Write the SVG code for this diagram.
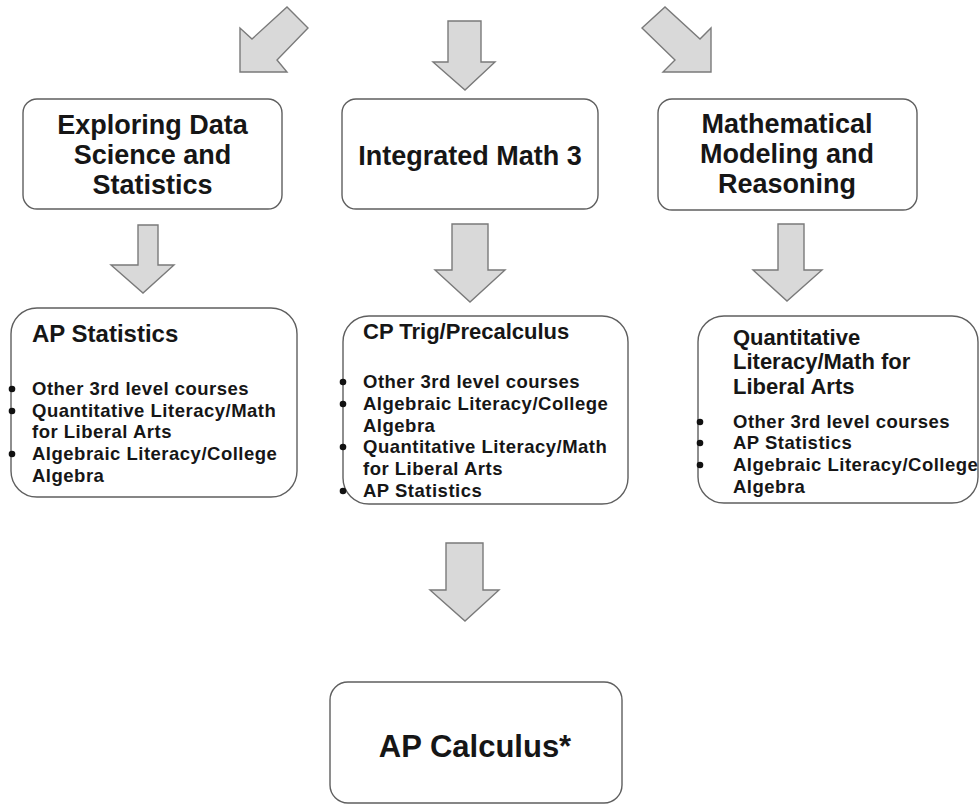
<svg xmlns="http://www.w3.org/2000/svg" width="979" height="804" viewBox="0 0 979 804">
<style>
.box{fill:#fff;stroke:#5f5f5f;stroke-width:1.4}
.arr{fill:#d9d9d9;stroke:#7a7a7a;stroke-width:1.4;stroke-linejoin:miter}
text{font-family:"Liberation Sans",Arial,sans-serif;font-weight:bold;fill:#161616}
.big{font-size:27px;text-anchor:middle}
.ttl{font-size:22px}
.sm{font-size:18.5px;letter-spacing:0.5px}
.dot{fill:#111}
</style>
<rect width="979" height="804" fill="#fff"/>
<g id="connectors">
<polygon class="arr" points="240,72 240,28 252,39 287,7 308,28 277,60 287,72"/>
<polygon class="arr" points="448,21 481,21 481,62 495,62 465,90 433,62 448,62"/>
<polygon class="arr" points="642,28 665,7 700,39 711,28 711,72 663,72 675,60"/>
<polygon class="arr" points="138,225 158,225 158,265 174,265 143,293 111,265 138,265"/>
<polygon class="arr" points="452,224 488,224 488,270 505,270 470,302 435,270 452,270"/>
<polygon class="arr" points="778,224 804,224 804,270 822,270 787,301 753,270 778,270"/>
<polygon class="arr" points="446,543 483,543 483,590 499,590 465,621 430,590 446,590"/>
</g>
<g id="eds">
<rect class="box" x="23" y="99" width="259" height="110" rx="14"/>
<text class="big" x="152.5" y="134">Exploring Data</text>
<text class="big" x="152.5" y="164">Science and</text>
<text class="big" x="152.5" y="194">Statistics</text>
</g>
<g id="im3">
<rect class="box" x="342" y="99" width="256" height="110" rx="14"/>
<text class="big" x="470" y="165">Integrated Math 3</text>
</g>
<g id="mmr">
<rect class="box" x="658" y="99" width="259" height="111" rx="14"/>
<text class="big" x="787" y="133">Mathematical</text>
<text class="big" x="787" y="163">Modeling and</text>
<text class="big" x="787" y="193">Reasoning</text>
</g>
<g id="apstat">
<rect class="box" x="11" y="308" width="286" height="189" rx="26"/>
<text x="32" y="342" style="font-size:24px">AP Statistics</text>
<circle class="dot" cx="12" cy="389" r="3.3"/>
<circle class="dot" cx="12" cy="411" r="3.3"/>
<circle class="dot" cx="12" cy="454" r="3.3"/>
<text class="sm" x="32" y="395">Other 3rd level courses</text>
<text class="sm" x="32" y="417">Quantitative Literacy/Math</text>
<text class="sm" x="32" y="438">for Liberal Arts</text>
<text class="sm" x="32" y="460">Algebraic Literacy/College</text>
<text class="sm" x="32" y="482">Algebra</text>
</g>
<g id="cptrig">
<rect class="box" x="343" y="316" width="285" height="188" rx="26"/>
<text class="ttl" x="363" y="339">CP Trig/Precalculus</text>
<circle class="dot" cx="343" cy="382" r="3.3"/>
<circle class="dot" cx="343" cy="404" r="3.3"/>
<circle class="dot" cx="343" cy="447" r="3.3"/>
<circle class="dot" cx="343" cy="491" r="3.3"/>
<text class="sm" x="363" y="388">Other 3rd level courses</text>
<text class="sm" x="363" y="410">Algebraic Literacy/College</text>
<text class="sm" x="363" y="432">Algebra</text>
<text class="sm" x="363" y="453">Quantitative Literacy/Math</text>
<text class="sm" x="363" y="475">for Liberal Arts</text>
<text class="sm" x="363" y="497">AP Statistics</text>
</g>
<g id="qlit">
<rect class="box" x="698" y="316" width="280" height="187" rx="26"/>
<text class="ttl" x="733" y="345">Quantitative</text>
<text class="ttl" x="733" y="369">Literacy/Math for</text>
<text class="ttl" x="733" y="394">Liberal Arts</text>
<circle class="dot" cx="700" cy="422" r="3.3"/>
<circle class="dot" cx="700" cy="443" r="3.3"/>
<circle class="dot" cx="700" cy="465" r="3.3"/>
<text class="sm" x="733" y="428">Other 3rd level courses</text>
<text class="sm" x="733" y="449">AP Statistics</text>
<text class="sm" x="733" y="471">Algebraic Literacy/College</text>
<text class="sm" x="733" y="493">Algebra</text>
</g>
<g id="apcalc">
<rect class="box" x="330" y="682" width="292" height="121" rx="18"/>
<text x="475" y="757" style="font-size:31px;text-anchor:middle">AP Calculus*</text>
</g>
</svg>
